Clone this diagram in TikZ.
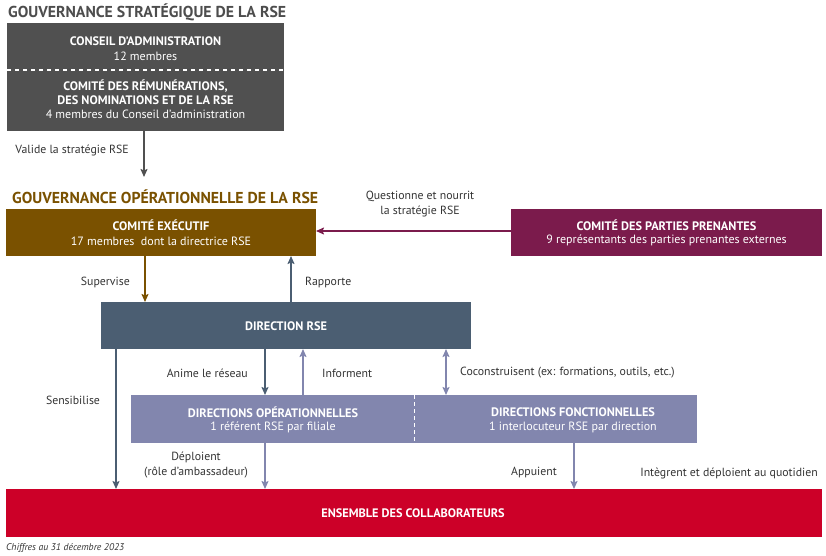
\documentclass[tikz,border=0pt]{standalone}
\usepackage{fontspec}
\setmainfont{PT Sans}
\usetikzlibrary{arrows.meta}
\definecolor{cgray}{HTML}{505050}
\definecolor{ctitle}{HTML}{4D4D4D}
\definecolor{cbrown}{HTML}{7A5100}
\definecolor{cpurple}{HTML}{7B1B4C}
\definecolor{cslate}{HTML}{4B5E72}
\definecolor{clav}{HTML}{8286AE}
\definecolor{cred}{HTML}{CC0028}
\definecolor{ctext}{HTML}{333333}
\tikzset{
  box/.style={inner sep=0pt, outer sep=0pt, anchor=north west, text=white, align=center},
  hdr/.style={font=\fontsize{15.8}{17}\selectfont\bfseries, anchor=west, inner sep=0pt},
  lbl/.style={font=\fontsize{11.8}{15}\selectfont, text=ctext, align=center, inner sep=0pt},
  arr/.style={line width=1.5pt, -{Stealth[length=8pt,width=7pt,inset=1.5pt]}},
  darr/.style={line width=1.5pt, {Stealth[length=8pt,width=7pt,inset=1.5pt]}-{Stealth[length=8pt,width=7pt,inset=1.5pt]}},
  bt/.style={font=\fontsize{12.3}{14.5}\selectfont\bfseries},
  nt/.style={font=\fontsize{12}{14.5}\selectfont}
}
\begin{document}
\begin{tikzpicture}[x=1pt,y=-1pt]
\useasboundingbox (0,0) rectangle (826,555);
% titles
\node[hdr, text=ctitle] (t1) at (8,12) {GOUVERNANCE STRATÉGIQUE DE LA RSE};
\node[hdr, text=cbrown] (t2) at (12,197) {GOUVERNANCE OPÉRATIONNELLE DE LA RSE};
% boxes
\fill[cgray] (7,23) rectangle (284,131);
\node[box, minimum width=277, minimum height=108] (ca) at (7,23) {};
\draw[white, line width=1.2pt, dash pattern=on 4pt off 4pt] (7,70) -- (284,70);
\node[bt, text=white] (ca1) at (145.5,41) {CONSEIL D’ADMINISTRATION};
\node[nt, text=white] (ca2) at (145.5,56) {12 membres};
\node[bt, text=white, align=center] (ca3) at (145.5,92) {COMITÉ DES RÉMUNÉRATIONS,\\DES NOMINATIONS ET DE LA RSE};
\node[nt, text=white] (ca4) at (145.5,114) {4 membres du Conseil d’administration};

\node[box, fill=cbrown, minimum width=310, minimum height=47] (ce) at (6,209) {};
\node[bt, text=white] at (161,225) {COMITÉ EXÉCUTIF};
\node[nt, text=white] at (161,241) {17 membres\ \ dont la directrice RSE};

\node[box, fill=cpurple, minimum width=311, minimum height=47] (pp) at (511,209) {};
\node[bt, text=white] at (666.5,225) {COMITÉ DES PARTIES PRENANTES};
\node[nt, text=white] at (666.5,240) {9 représentants des parties prenantes externes};

\node[box, fill=cslate, minimum width=370, minimum height=47] (dr) at (101,302) {};
\node[bt, text=white] at (286,326) {DIRECTION RSE};

\node[box, fill=clav, minimum width=566, minimum height=48] (dd) at (131,395) {};
\draw[white, line width=1.2pt, dash pattern=on 4pt off 3pt] (414.5,395) -- (414.5,443);
\node[bt, text=white] at (273,412) {DIRECTIONS OPÉRATIONNELLES};
\node[nt, text=white] at (273,427) {1 référent RSE par filiale};
\node[bt, text=white] at (573,412) {DIRECTIONS FONCTIONNELLES};
\node[nt, text=white] at (573,427) {1 interlocuteur RSE par direction};

\node[box, fill=cred, minimum width=816, minimum height=48] (ec) at (6,489) {};
\node[bt, text=white] at (413,513) {ENSEMBLE DES COLLABORATEURS};

% connectors
\coordinate (a1s) at (144,131); \coordinate (a1e) at (144,177);
\draw[arr, cgray] (a1s) -- (a1e);
\node[lbl, anchor=east] at (129,150) {Valide la stratégie RSE};

\draw[arr, cpurple] (pp.west |- 0,231) -- (ce.east |- 0,231);
\node[lbl] at (420,204) {Questionne et nourrit\\la stratégie RSE};

\draw[arr, cbrown] (145,256) -- (145,302);
\node[lbl, anchor=east] at (130,282) {Supervise};

\draw[arr, cslate] (291,302) -- (291,256);
\node[lbl, anchor=west] at (305,282) {Rapporte};

\draw[arr, cslate] (116,349) -- (116,489);
\node[lbl] at (73,400) {Sensibilise};

\draw[arr, cslate] (265,349) -- (265,395);
\node[lbl, anchor=east] at (248,373) {Anime le réseau};

\draw[arr, clav] (303,395) -- (303,349);
\node[lbl, anchor=west] at (322,373) {Informent};

\draw[darr, clav] (446,349) -- (446,395);
\node[lbl, anchor=west] at (460,373) {Coconstruisent (ex: formations, outils, etc.)};

\draw[arr, clav] (265,443) -- (265,489);
\node[lbl] at (196,465.5) {Déploient\\(rôle d’ambassadeur)};

\draw[arr, clav] (574,443) -- (574,489);
\node[lbl, anchor=east] at (557,472) {Appuient};

\node[lbl, anchor=east] at (818,473) {Intègrent et déploient au quotidien};

\node[anchor=west, inner sep=0pt, font=\fontsize{9.7}{11}\selectfont\itshape, text=ctext] at (6,548) {Chiffres au 31 décembre 2023};
\end{tikzpicture}
\end{document}
